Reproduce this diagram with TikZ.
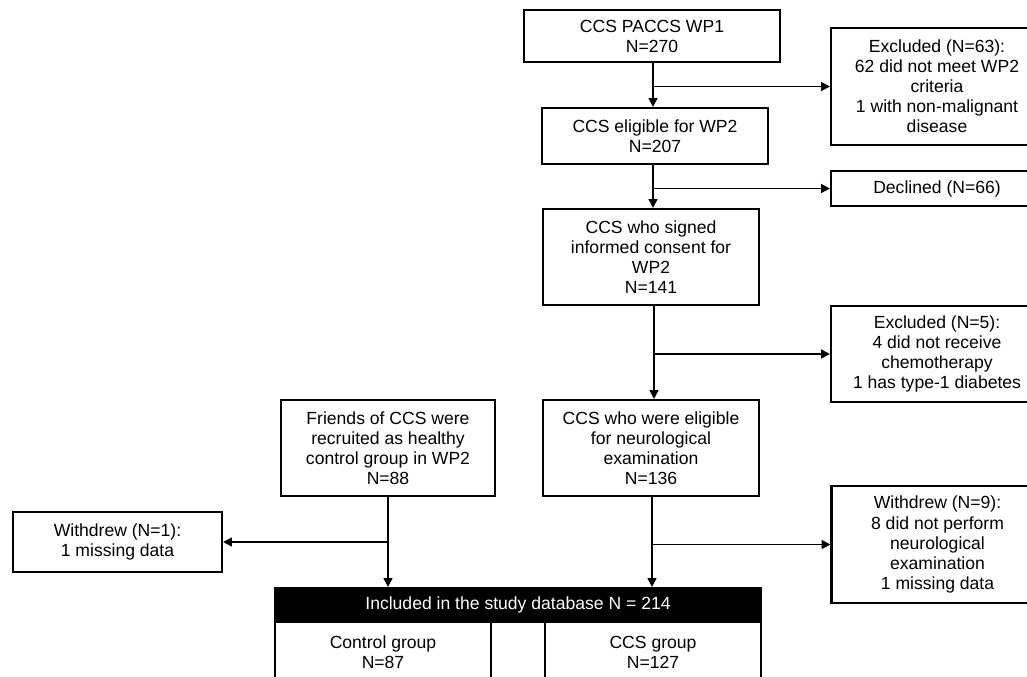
\documentclass[tikz,border=0pt]{standalone}
\usepackage{fontspec}
\setmainfont{Liberation Sans}
\usetikzlibrary{arrows.meta}

\begin{document}
\begin{tikzpicture}[x=0.02cm,y=-0.02cm,
    >={Triangle[length=5pt,width=5pt]},
    box/.style={draw,line width=1.2pt,align=center,inner sep=0pt,
      font=\fontsize{10}{11.4}\selectfont},
    flow/.style={->,line width=1pt}]
    \useasboundingbox (0,0) rectangle (1027,676);
    \clip (0,0) rectangle (1027,676);
    \node[box,minimum width=5.12cm,minimum height=1.04cm] (wp1) at (652,36) {CCS PACCS WP1\\N=270};
    \node[box,minimum width=4.52cm,minimum height=1.12cm] (elig) at (655,136) {CCS eligible for WP2\\N=207};
    \node[box,minimum width=4.32cm,minimum height=1.92cm] (consent) at (651,257) {CCS who signed\\informed consent for\\WP2\\N=141};
    \node[box,minimum width=4.32cm,minimum height=1.92cm] (neuro) at (651,448) {CCS who were eligible\\for neurological\\examination\\N=136};
    \node[box,minimum width=4.28cm,minimum height=1.92cm] (friends) at (388,448) {Friends of CCS were\\recruited as healthy\\control group in WP2\\N=88};
    \node[box,minimum width=4.24cm,minimum height=2.34cm] (excl1) at (937,86.5) {Excluded (N=63):\\62 did not meet WP2\\criteria\\1 with non-malignant\\disease};
    \node[box,minimum width=4.24cm,minimum height=0.7cm] (decl) at (937,188.5) {Declined (N=66)};
    \node[box,minimum width=4.24cm,minimum height=1.92cm] (excl2) at (937,354) {Excluded (N=5):\\4 did not receive\\chemotherapy\\1 has type-1 diabetes};
    \node[box,minimum width=4.24cm,minimum height=2.34cm] (wd9) at (937.5,544.5) {Withdrew (N=9):\\8 did not perform\\neurological\\examination\\1 missing data};
    \node[box,minimum width=4.18cm,minimum height=1.2cm] (wd1) at (117.5,542) {Withdrew (N=1):\\1 missing data};
    \node[box,fill=black,text=white,minimum width=9.72cm,minimum height=0.68cm] (incl) at (518,605) {Included in the study database N = 214};
    \node[box,minimum width=4.32cm,minimum height=1.2cm] (ctrl) at (383,652) {Control group\\N=87};
    \node[box,minimum width=4.32cm,minimum height=1.2cm] (ccs) at (653,652) {CCS group\\N=127};
    \draw[flow] (wp1.south -| 653,0) -- (elig.north -| 653,0);
    \draw[flow] (653,86.5) -- (excl1.west);
    \draw[flow] (elig.south -| 653,0) -- (consent.north -| 653,0);
    \draw[flow] (653,188.5) -- (decl.west);
    \draw[flow] (consent.south -| 654,0) -- (neuro.north -| 654,0);
    \draw[flow] (654,354) -- (excl2.west);
    \draw[flow] (neuro.south -| 652,0) -- (incl.north -| 652,0);
    \draw[flow] (652,544.5) -- (wd9.west);
    \draw[flow] (friends.south) -- (incl.north -| friends.south);
    \draw[flow] (388,542) -- (wd1.east);
\end{tikzpicture}
\end{document}
